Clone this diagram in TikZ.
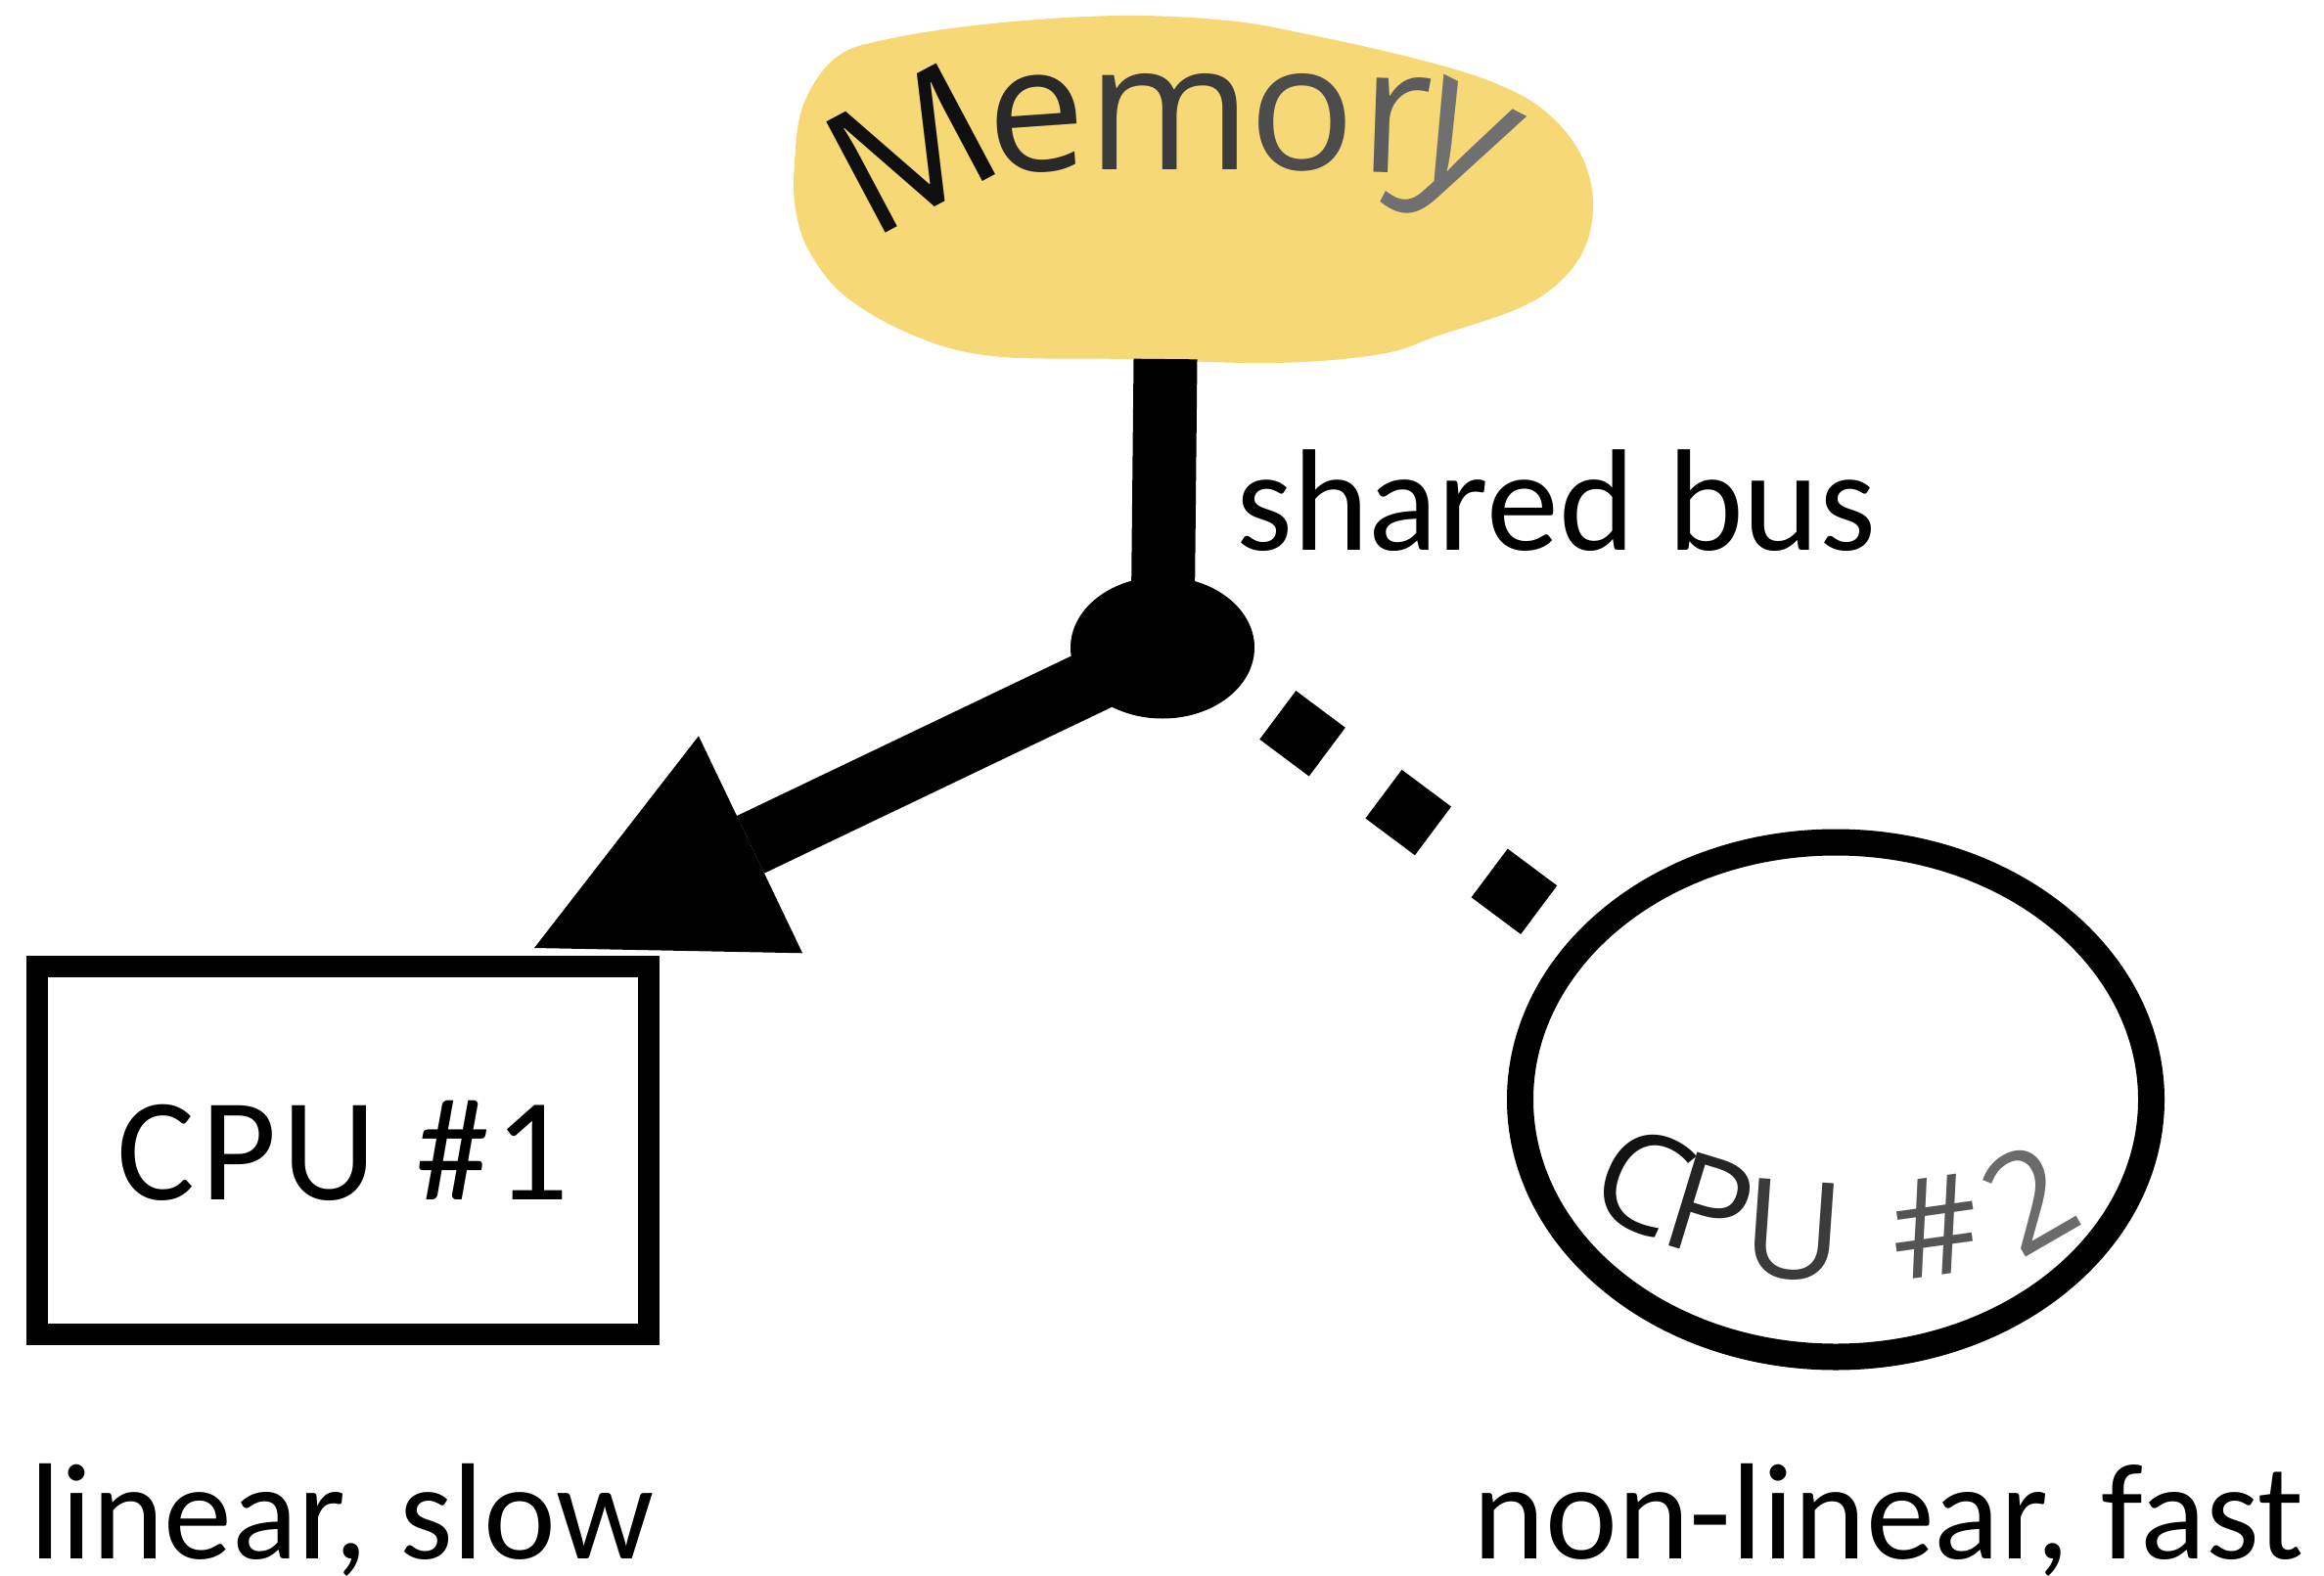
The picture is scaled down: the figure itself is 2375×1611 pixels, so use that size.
\documentclass[tikz,border=0pt]{standalone}
\usepackage{fontspec}
\setmainfont{Carlito}
\newfontfamily\curvefont{Open Sans}
\usetikzlibrary{arrows.meta,shapes.geometric}
\definecolor{memyellow}{RGB}{246,217,118}
\begin{document}
\begin{tikzpicture}[x=1pt,y=-1pt,
  thickline/.style={line width=65pt},
  dashline/.style={line width=62pt, dash pattern=on 63pt off 72pt, dash phase=123pt},
  cpubox/.style={draw, rectangle, line width=22pt, minimum width=625pt, minimum height=376pt, inner sep=0pt,
    font=\fontsize{150}{180}\selectfont\addfontfeatures{LetterSpace=4}},
  cpuoval/.style={draw, ellipse, line width=27pt, minimum width=645pt, minimum height=526pt, inner sep=0pt},
  junction/.style={fill=black, ellipse, minimum width=188pt, minimum height=145pt, inner sep=0pt},
  biglabel/.style={font=\fontsize{140}{168}\selectfont, inner sep=0pt},
  memletter/.style={font=\curvefont\fontsize{180}{200}\selectfont, inner sep=0pt},
  cpuletter/.style={font=\curvefont\fontsize{140}{168}\selectfont, inner sep=0pt},
]
\useasboundingbox (0,0) rectangle (2375,1611);

% memory blob
\fill[memyellow] plot[smooth cycle, tension=0.6] coordinates {
  (821,107) (854,59) (907,40) (1014,24) (1143,16) (1255,21) (1336,35)
  (1443,59) (1523,83) (1577,112) (1614,155) (1628,204) (1620,252)
  (1593,289) (1550,316) (1470,343) (1411,362) (1303,371) (1148,367)
  (1014,364) (934,343) (864,303) (827,257) (813,214) (812,166)};
\coordinate (membot) at (1191,367);

% Memory text
\node[memletter, text=black!94, rotate=28] (mM) at (931,152) {M};
\node[memletter, text=black!84, rotate=4] (me) at (1059,127) {e};
\node[memletter, text=black!77] (mm) at (1195,124) {m};
\node[memletter, text=black!70] (mo) at (1331,125) {o};
\node[memletter, text=black!64, rotate=-2] (mr) at (1427,128) {r};
\node[memletter, text=black!56, rotate=-27, font=\curvefont\fontsize{190}{210}\selectfont] (my) at (1485,163) {y};

% nodes
\node[junction] (junc) at (1188,662) {};
\node[cpubox] (cpu1) at (350.5,1176) {CPU \#1};
\node[cpuoval] (cpu2) at (1876,1124) {};
\coordinate (tip1) at (546,969);

% CPU #2 text
\node[cpuletter, text=black!93, rotate=-25] (c2C) at (1679,1207) {C};
\node[cpuletter, text=black!86, rotate=-17] (c2P) at (1747,1234) {P};
\node[cpuletter, text=black!77, rotate=-4] (c2U) at (1833,1258) {U};
\node[cpuletter, text=black!67, rotate=8] (c2h) at (1977,1254) {\#};
\node[cpuletter, text=black!58, rotate=30] (c22) at (2074,1225) {2};

% connectors
\draw[thickline] (membot) -- (junc.center);
\draw[thickline, -{Triangle[length=245pt, width=246pt, line width=0pt]}] (junc.center) -- (tip1);
\draw[dashline] ([yshift=19pt]junc.center) -- (cpu2.148);

% labels
\node[biglabel, anchor=base west, font=\fontsize{148}{170}\selectfont] (shared) at (1263,562) {shared bus};
\node[biglabel, anchor=base west] (lin) at (30,1593) {linear, slow};
\node[biglabel, anchor=base east] (nonlin) at (2355,1593) {non-linear, fast};
\end{tikzpicture}
\end{document}
